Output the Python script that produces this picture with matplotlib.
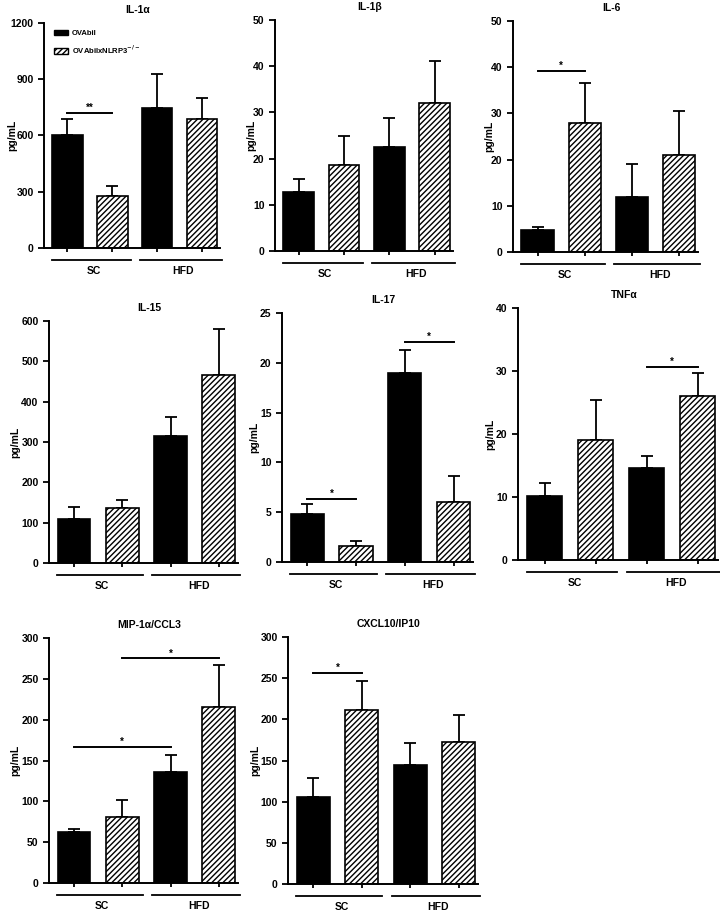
import numpy as np
import matplotlib.pyplot as plt
import matplotlib.transforms as mtransforms
from matplotlib.patches import Patch

plt.rcParams['font.family'] = ['Liberation Sans', 'DejaVu Sans']
plt.rcParams['font.weight'] = 'bold'
plt.rcParams['hatch.linewidth'] = 1.0

# data (mean, SEM upward)
titles = ['IL-1α', 'IL-1β', 'IL-6', 'IL-15', 'IL-17', 'TNFα', 'MIP-1α/CCL3', 'CXCL10/IP10']
means = [
    [605, 278, 748, 690],
    [12.8, 18.6, 22.6, 32.1],
    [4.7, 27.9, 12.0, 21.0],
    [108, 137, 315, 465],
    [4.8, 1.6, 19.0, 6.0],
    [10.2, 19.0, 14.6, 26.0],
    [62, 81, 136, 216],
    [106, 211, 144, 172],
]
errs = [
    [85, 55, 182, 110],
    [2.7, 6.2, 6.2, 9.0],
    [0.8, 8.7, 7.0, 9.6],
    [30, 20, 47, 115],
    [1.0, 0.5, 2.3, 2.6],
    [2.1, 6.4, 1.9, 3.7],
    [4, 21, 21, 51],
    [23, 35, 27, 33],
]
ymax = [1200, 50, 50, 600, 25, 40, 300, 300]
ystep = [300, 10, 10, 100, 5, 10, 50, 50]
# significance brackets: panel, bar a, bar b, height, label
sig_panel = [0, 2, 4, 4, 5, 6, 6, 7]
sig_a = [0, 0, 0, 2, 2, 0, 1, 0]
sig_b = [1, 1, 1, 3, 3, 2, 3, 1]
sig_y = [720, 39.2, 6.3, 22.1, 30.7, 167, 275, 256]
sig_txt = ['**', '*', '*', '*', '*', '*', '*', '*']
groups = ['SC', 'HFD']
series = ['OVAbil', r'OVAbilxNLRP3$^{-/-}$']

# panel rectangles in pixels: left, right, top, bottom
rects = [
    (44, 220, 23, 248), (275, 453, 20, 251), (513, 698, 21, 252),
    (49, 238, 321, 563), (282, 473, 313, 562), (518, 718, 308, 560),
    (49, 238, 638, 883), (288, 478, 637, 884),
]
# y-label centre distance from the axis, pixels
ylab_off = [32, 24, 24, 34, 28, 28, 34, 33]

W, H = 720, 913
fig = plt.figure(figsize=(W / 100, H / 100), dpi=100)
x = np.arange(4)
axes = []
for i, (l, r, t, b) in enumerate(rects):
    w_px, h_px = r - l, b - t
    ax = fig.add_axes([l / W, 1 - b / H, w_px / W, h_px / H])
    axes.append(ax)
    colors = ['black', 'white', 'black', 'white']
    hatches = [None, '//////', None, '//////']
    for j in range(4):
        ax.bar(x[j], means[i][j], width=0.68, color=colors[j], edgecolor='black',
               linewidth=1.2, hatch=hatches[j], zorder=2)
    ax.errorbar(x, means[i], yerr=[np.zeros(4), errs[i]], fmt='none', ecolor='black',
                elinewidth=1.3, capsize=4.5, capthick=1.3, zorder=1)
    ax.set_xlim(-0.52, 3.4)
    ax.set_ylim(0, ymax[i])
    ax.set_yticks(np.arange(0, ymax[i] + 1e-9, ystep[i]))
    ax.set_xticks(x)
    ax.set_xticklabels([])
    for s in ['top', 'right']:
        ax.spines[s].set_visible(False)
    for s in ['left', 'bottom']:
        ax.spines[s].set_linewidth(1.4)
    ax.tick_params(axis='both', width=1.3, length=4, labelsize=7.5)
    ax.tick_params(axis='x', length=3)
    ax.set_ylabel('pg/mL', fontsize=7.5, fontweight='bold')
    ax.yaxis.set_label_coords(-(ylab_off[i] - 5) / w_px, 0.5)
    ax.set_title(titles[i], fontsize=7.5, fontweight='bold', pad=7, x=0.53)
    trans = mtransforms.blended_transform_factory(ax.transData, ax.transAxes)
    for g, (x0, x1) in enumerate([(-0.35, 1.42), (1.62, 3.45)]):
        ax.plot([x0, x1], [-12 / h_px] * 2, color='black', lw=1.3,
                transform=trans, clip_on=False)
        ax.text((x0 + x1) / 2 + 0.05, -23 / h_px, groups[g], transform=trans,
                ha='center', va='center', fontsize=7.5, fontweight='bold')

for p, a, bb, yv, tx in zip(sig_panel, sig_a, sig_b, sig_y, sig_txt):
    ax = axes[p]
    ax.plot([x[a], x[bb]], [yv, yv], color='black', lw=1.4, zorder=3)
    ax.text((x[a] + x[bb]) / 2, yv, tx, ha='center', va='bottom', fontsize=7,
            fontweight='bold')

handles = [Patch(facecolor='black', edgecolor='black'),
           Patch(facecolor='white', edgecolor='black', hatch='//////')]
axes[0].legend(handles, series, loc='upper left', bbox_to_anchor=(0.03, 0.99),
               frameon=False, handlelength=1.8, handleheight=0.7, handletextpad=0.6,
               labelspacing=0.8, borderaxespad=0.2, prop={'weight': 'bold', 'size': 5.5})

fig.savefig('out.png', dpi=100)
